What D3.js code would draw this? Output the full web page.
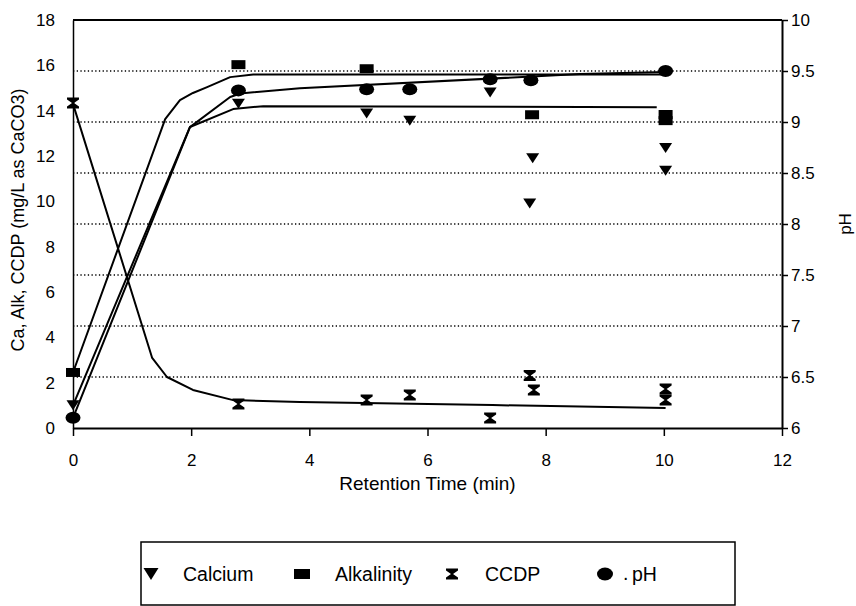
<!DOCTYPE html>
<html>
<head>
<meta charset="utf-8">
<script src="https://cdn.jsdelivr.net/npm/d3@7/dist/d3.min.js"></script>
<style>
  html, body { margin: 0; padding: 0; background: #fff; }
  svg { display: block; font-family: "Liberation Sans", Arial, sans-serif; }
</style>
</head>
<body>
<svg id="chart" width="856" height="606"></svg>
<script>
// Measured points (time in minutes)
const caTime = [0, 2.8, 4.97, 5.7, 7.06, 7.78, 7.73, 10.03, 10.03];
const caValue = [1.0, 14.3, 13.88, 13.55, 14.8, 11.9, 9.9, 12.35, 11.35];

const alkTime = [0, 2.8, 4.97, 7.77, 10.03, 10.03];
const alkValue = [2.45, 16.03, 15.85, 13.82, 13.83, 13.56];

const ccdpTime = [0, 2.8, 4.97, 5.7, 7.06, 7.73, 7.8, 10.03, 10.03];
const ccdpValue = [14.34, 1.06, 1.24, 1.46, 0.44, 2.32, 1.68, 1.72, 1.24];

const phTime = [0, 2.8, 4.97, 5.7, 7.06, 7.75, 10.03];
const phValue = [6.1, 9.31, 9.32, 9.32, 9.42, 9.41, 9.5];

// Fitted curves
const alkFitTime = [0, 1.56, 1.81, 2.03, 2.27, 2.66, 3.05, 10.03];
const alkFitValue = [2.45, 13.63, 14.47, 14.78, 15.04, 15.48, 15.6, 15.6];

const caFitTime = [0, 1.98, 2.71, 3.22, 9.88];
const caFitValue = [1.0, 13.28, 14.07, 14.2, 14.15];

const phFitTime = [0, 1.98, 2.66, 2.83, 3.84, 8.58, 10.03];
const phFitValue = [6.1, 8.95, 9.245, 9.28, 9.33, 9.47, 9.49];

const ccdpFitTime = [0, 1.34, 1.59, 2.03, 2.71, 3.84, 7.1, 10.03];
const ccdpFitValue = [14.3, 3.09, 2.25, 1.68, 1.23, 1.15, 1.01, 0.88];

// Axis ticks
const xTicks = [0, 2, 4, 6, 8, 10, 12];
const yLeftTicks = [0, 2, 4, 6, 8, 10, 12, 14, 16, 18];
const yRightTicks = [6, 6.5, 7, 7.5, 8, 8.5, 9, 9.5, 10];

const legendLabels = ["Calcium", "Alkalinity", "CCDP", "pH"];

const FONT = "'Liberation Sans', Arial, sans-serif";
const svg = d3.select("#chart");
const margin = { left: 73, right: 74, top: 20, bottom: 178 };
const W = 856, H = 606;
const plotW = W - margin.left - margin.right;
const plotH = H - margin.top - margin.bottom;

const x = d3.scaleLinear().domain([0, 12]).range([margin.left, margin.left + plotW]);
const yL = d3.scaleLinear().domain([0, 18]).range([margin.top + plotH, margin.top]);
const yR = d3.scaleLinear().domain([6, 10]).range([margin.top + plotH, margin.top]);

// Dotted gridlines at the pH ticks
svg.append("g")
  .selectAll("line")
  .data(yRightTicks.filter(d => d > 6 && d < 10))
  .join("line")
  .attr("x1", x(0)).attr("x2", x(12))
  .attr("y1", d => yR(d)).attr("y2", d => yR(d))
  .attr("stroke", "#000")
  .attr("stroke-width", 1.3)
  .attr("stroke-dasharray", "1.3,2.4");

// Frame: top border
svg.append("line")
  .attr("x1", x(0)).attr("x2", x(12))
  .attr("y1", yL(18)).attr("y2", yL(18))
  .attr("stroke", "#000").attr("stroke-width", 2);

// Bottom axis
const xAxis = svg.append("g")
  .attr("transform", `translate(0,${yL(0)})`)
  .call(d3.axisBottom(x).tickValues(xTicks).tickSizeInner(8).tickSizeOuter(0).tickPadding(18));
xAxis.select(".domain").attr("stroke-width", 2);
xAxis.selectAll(".tick line").attr("stroke-width", 1.5);
xAxis.selectAll("text").attr("font-size", 17).attr("fill", "#000").attr("font-family", FONT);

// Left axis without tick marks
const yAxisL = svg.append("g")
  .attr("transform", `translate(${x(0)},0)`)
  .call(d3.axisLeft(yL).tickValues(yLeftTicks).tickSize(0).tickPadding(18));
yAxisL.select(".domain").attr("stroke-width", 1.5);
yAxisL.selectAll("text").attr("font-size", 17).attr("fill", "#000").attr("font-family", FONT);

// Right axis for pH
const yAxisR = svg.append("g")
  .attr("transform", `translate(${x(12)},0)`)
  .call(d3.axisRight(yR).tickValues(yRightTicks).tickSizeInner(6).tickSizeOuter(0).tickPadding(3)
    .tickFormat(d => String(d)));
yAxisR.select(".domain").attr("stroke-width", 2);
yAxisR.selectAll(".tick line").attr("stroke-width", 1.5);
yAxisR.selectAll("text").attr("font-size", 17).attr("fill", "#000").attr("font-family", FONT);

// Axis titles
svg.append("text")
  .attr("x", x(6)).attr("y", 490)
  .attr("text-anchor", "middle").attr("font-size", 19)
  .text("Retention Time (min)");

svg.append("text")
  .attr("transform", `translate(24,220) rotate(-90)`)
  .attr("text-anchor", "middle").attr("font-size", 18)
  .text("Ca, Alk, CCDP (mg/L as CaCO3)");

svg.append("text")
  .attr("transform", `translate(851,${yR(8)}) rotate(-90)`)
  .attr("text-anchor", "middle").attr("font-size", 17)
  .text("pH");

// Fitted curves
const lineL = d3.line().x(d => x(d[0])).y(d => yL(d[1]));
const lineR = d3.line().x(d => x(d[0])).y(d => yR(d[1]));
const zip = (a, b) => a.map((v, i) => [v, b[i]]);

const curves = svg.append("g").attr("fill", "none").attr("stroke", "#000").attr("stroke-width", 2)
  .attr("stroke-linejoin", "round");
curves.append("path").attr("d", lineL(zip(alkFitTime, alkFitValue)));
curves.append("path").attr("d", lineL(zip(caFitTime, caFitValue)));
curves.append("path").attr("d", lineR(zip(phFitTime, phFitValue)));
curves.append("path").attr("d", lineL(zip(ccdpFitTime, ccdpFitValue)));

// Marker shapes
const shapes = {
  triangle: "M-6.5,-5L6.5,-5L0,5Z",
  square: "M-7,-4.5H7V4.5H-7Z",
  hourglass: "M-6,-5.5H6V-3.5L1,0L6,3.5V5.5H-6V3.5L-1,0L-6,-3.5Z",
  legendTriangle: "M-7.5,-6L7.5,-6L0,6Z",
  legendSquare: "M-8,-5H8V5H-8Z",
  legendHourglass: "M-6,-5.5H6V-3.5L1,0L6,3.5V5.5H-6V3.5L-1,0L-6,-3.5Z"
};

function drawMarkers(times, values, yScale, kind) {
  const g = svg.append("g").attr("fill", "#000");
  const pts = zip(times, values);
  if (kind === "ellipse") {
    g.selectAll("ellipse").data(pts).join("ellipse")
      .attr("cx", d => x(d[0])).attr("cy", d => yScale(d[1]))
      .attr("rx", 7.5).attr("ry", 6);
  } else {
    g.selectAll("path").data(pts).join("path")
      .attr("transform", d => `translate(${x(d[0])},${yScale(d[1])})`)
      .attr("d", shapes[kind]);
  }
}

drawMarkers(caTime, caValue, yL, "triangle");
drawMarkers(alkTime, alkValue, yL, "square");
drawMarkers(ccdpTime, ccdpValue, yL, "hourglass");
drawMarkers(phTime, phValue, yR, "ellipse");

// Legend
const legend = svg.append("g");
legend.append("rect")
  .attr("x", 141).attr("y", 542).attr("width", 594).attr("height", 63)
  .attr("fill", "none").attr("stroke", "#000").attr("stroke-width", 1.5);

const legendItems = [
  { label: legendLabels[0], kind: "legendTriangle", mx: 151, tx: 183 },
  { label: legendLabels[1], kind: "legendSquare", mx: 302, tx: 335 },
  { label: legendLabels[2], kind: "legendHourglass", mx: 452, tx: 485 },
  { label: legendLabels[3], kind: "ellipse", mx: 605, tx: 632 }
];
const ly = 574;
legendItems.forEach(it => {
  if (it.kind === "ellipse") {
    legend.append("ellipse").attr("cx", it.mx).attr("cy", ly).attr("rx", 8).attr("ry", 6.5);
    legend.append("text").attr("x", it.mx + 18).attr("y", ly + 6).attr("font-size", 19.5).text(".");
  } else {
    legend.append("path").attr("transform", `translate(${it.mx},${ly})`).attr("d", shapes[it.kind]);
  }
  legend.append("text").attr("x", it.tx).attr("y", ly + 6.5)
    .attr("font-size", 19.5).text(it.label);
});
</script>
</body>
</html>
